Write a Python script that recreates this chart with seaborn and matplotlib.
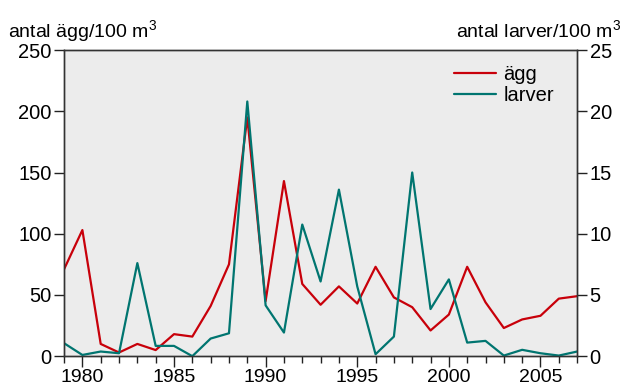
import pandas as pd
import matplotlib
matplotlib.use("Agg")
import matplotlib.pyplot as plt
import seaborn as sns
from matplotlib.ticker import MultipleLocator

# data
years = list(range(1979, 2008))
agg = [71, 103, 10, 3, 10, 5, 18, 16, 41, 75, 195, 45, 143, 59, 42, 57, 43, 73, 48, 40,
       21, 34, 73, 44, 23, 30, 33, 47, 49]
larver = [1.06, 0.1, 0.38, 0.24, 7.6, 0.84, 0.84, 0.0, 1.44, 1.87, 20.8, 4.15, 1.93, 10.75,
          6.1, 13.6, 5.7, 0.16, 1.6, 15.0, 3.85, 6.27, 1.11, 1.25, 0.05, 0.52, 0.24, 0.05, 0.38]

df = pd.DataFrame({"year": years, "agg": agg, "larver": larver})

sns.set_theme(style="ticks")
plt.rcParams["font.family"] = ["Liberation Sans", "DejaVu Sans"]
plt.rcParams["mathtext.fontset"] = "custom"
plt.rcParams["mathtext.rm"] = "Liberation Sans"
plt.rcParams["mathtext.it"] = "Liberation Sans"
plt.rcParams["text.color"] = "black"
plt.rcParams["xtick.color"] = "black"
plt.rcParams["ytick.color"] = "black"

red = "#c8000a"
teal = "#007570"

fig = plt.figure(figsize=(6.28, 3.88), dpi=100)
ax = fig.add_axes([0.102, 0.082, 0.817, 0.789])
ax2 = ax.twinx()
ax.set_facecolor("#ececec")

sns.lineplot(data=df, x="year", y="agg", ax=ax, color=red, linewidth=1.6, label="ägg", legend=False)
sns.lineplot(data=df, x="year", y="larver", ax=ax2, color=teal, linewidth=1.6, label="larver", legend=False)

ax.set_xlim(1979, 2007)
ax.set_ylim(0, 250)
ax2.set_ylim(0, 25)
ax.set_xlabel("")
ax.set_ylabel("")
ax2.set_ylabel("")

ax.xaxis.set_minor_locator(MultipleLocator(1))
ax.set_xticks(range(1980, 2006, 5))
ax.set_yticks(range(0, 251, 50))
ax2.set_yticks(range(0, 26, 5))

ax.tick_params(axis="x", which="major", length=8, width=1, labelsize=14, pad=1, color="#222222")
ax.tick_params(axis="x", which="minor", length=5, width=1, color="#222222")
ax.tick_params(axis="y", length=7, width=1, labelsize=14.5, pad=2, color="#222222")
ax2.tick_params(axis="y", length=7, width=1, labelsize=14.5, pad=2, color="#222222")

for a in (ax, ax2):
    for s in a.spines.values():
        s.set_visible(True)
        s.set_linewidth(1)
        s.set_color("#333333")

h1, l1 = ax.get_legend_handles_labels()
h2, l2 = ax2.get_legend_handles_labels()
ax2.legend(h1 + h2, l1 + l2, loc="upper right", frameon=False, fontsize=14.5,
           handlelength=2.1, handletextpad=0.35, labelspacing=0.1,
           bbox_to_anchor=(0.99, 1.01))

fig.text(0.013, 0.905, "antal ägg/100 m$^3$", fontsize=14, ha="left", va="baseline")
fig.text(0.99, 0.905, "antal larver/100 m$^3$", fontsize=14, ha="right", va="baseline")

fig.savefig("out.png", dpi=100)
